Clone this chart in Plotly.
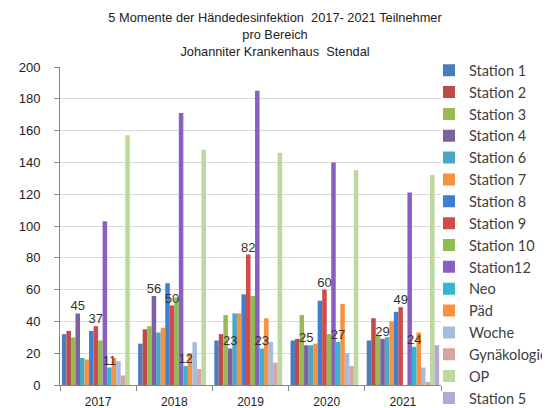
import plotly.graph_objects as go

years = ["2017", "2018", "2019", "2020", "2021"]

series_names = ["Station 1", "Station 2", "Station 3", "Station 4", "Station 6",
                "Station 7", "Station 8", "Station 9", "Station 10", "Station12",
                "Neo", "Päd", "Woche", "Gynäkologie", "OP", "Station 5"]

station_1 = [32, 26, 28, 28, 28]
station_2 = [34, 35, 32, 29, 42]
station_3 = [30, 37, 44, 44, 31]
station_4 = [45, 56, 23, 25, 29]
station_6 = [17, 33, 45, 25, 30]
station_7 = [16, 36, 45, 26, 40]
station_8 = [34, 64, 57, 53, 46]
station_9 = [37, 50, 82, 60, 49]
station_10 = [28, 55, 56, 32, None]
station_12 = [103, 171, 185, 140, 121]
neo = [11, 12, 23, 27, 24]
paed = [17, 20, 42, 51, 33]
woche = [15, 27, 27, 20, 11]
gynaekologie = [6, 10, 14, 12, 2]
op = [157, 148, 146, 135, 132]
station_5 = [None, None, None, None, 25]

values = [station_1, station_2, station_3, station_4, station_6, station_7,
          station_8, station_9, station_10, station_12, neo, paed, woche,
          gynaekologie, op, station_5]

colors = ["#4A7EBB", "#BE4B48", "#98B954", "#7D60A0", "#46AAC5", "#F69240",
          "#3D7FD0", "#D24B4B", "#8CBF4F", "#8A5FC2", "#35B5D3", "#F9913F",
          "#A3BCE0", "#D9A3A3", "#BBD89E", "#B5A8D3"]

labelled = {"Station 4", "Station 9", "Neo"}

group_frac = 0.95
n = len(series_names)
slot = group_frac / n

fig = go.Figure()
# unlabelled series first, labelled ones last so their labels sit on top
order = [i for i in range(n) if series_names[i] not in labelled] + \
        [i for i in range(n) if series_names[i] in labelled]
for i in order:
    name, vals, col = series_names[i], values[i], colors[i]
    kw = {}
    if name in labelled:
        kw = dict(text=[str(v) if v is not None else "" for v in vals],
                  textposition="outside", constraintext="none", cliponaxis=False,
                  textfont=dict(family="Liberation Sans", size=13, color="#333333"))
    fig.add_trace(go.Bar(x=years, y=vals, name=name, legendrank=i + 1,
                         width=slot, offset=-group_frac / 2 + i * slot,
                         marker=dict(color=col, line=dict(width=0)), **kw))

fig.update_layout(
    width=550, height=408,
    barmode="overlay",
    paper_bgcolor="white", plot_bgcolor="white",
    margin=dict(l=52, r=117, t=59, b=31, autoexpand=False),
    title=dict(text="5 Momente der Händedesinfektion  2017- 2021 Teilnehmer<br>pro Bereich<br>Johanniter Krankenhaus  Stendal",
               x=0.4855, xref="container", y=0.9647, yanchor="top",
               font=dict(family="Liberation Sans", size=12.8, color="#222222")),
    font=dict(family="Liberation Sans", color="#222222"),
    legend=dict(x=0.9685, xanchor="left", y=1.04, yanchor="top", maxheight=420,
                bgcolor="rgba(0,0,0,0)", font=dict(family="Lato", size=14.5, color="#404040"),
                itemwidth=30, traceorder="normal"),
    showlegend=True,
)
fig.update_xaxes(type="category", tickson="boundaries", ticks="outside", ticklen=5,
                 tickcolor="#868686", showline=True, linecolor="#868686", linewidth=1,
                 showgrid=False, ticklabelstandoff=6,
                 tickfont=dict(family="Liberation Sans", size=12, color="#222222"))
fig.update_yaxes(range=[0, 200], dtick=20, showgrid=True, gridcolor="#D9D9D9", gridwidth=1,
                 showline=True, linecolor="#868686", linewidth=1, ticks="outside", ticklen=5,
                 tickcolor="#868686", ticklabelstandoff=11, zeroline=False,
                 tickfont=dict(family="Liberation Sans", size=13, color="#222222"))

fig.write_html("out.html")
